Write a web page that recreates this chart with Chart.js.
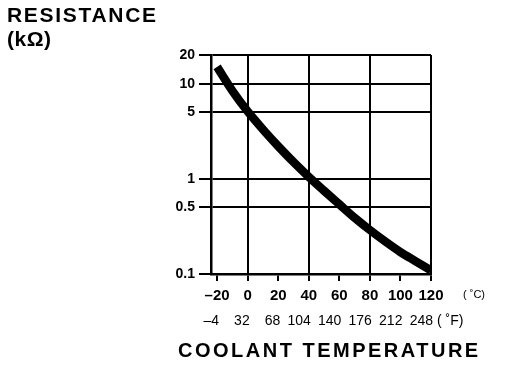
<!DOCTYPE html>
<html>
<head>
<meta charset="utf-8">
<script src="https://cdn.jsdelivr.net/npm/chart.js@4/dist/chart.umd.min.js"></script>
<style>
  html, body { margin: 0; padding: 0; background: #fff; }
  #c { display: block; }
</style>
</head>
<body>
<canvas id="c" width="526" height="380"></canvas>
<script>
// ---- data ----
const temperaturesC = [-20, -10, 0, 10, 20, 30, 40, 50, 60, 70, 80, 90, 100, 110, 120];
const resistanceKOhm = [15, 8.4, 5.1, 3.3, 2.2, 1.5, 1.05, 0.75, 0.54, 0.39, 0.29, 0.22, 0.17, 0.136, 0.109];
const xTicksC = [-20, 0, 20, 40, 60, 80, 100, 120];
const xTickLabelsC = ['–20', '0', '20', '40', '60', '80', '100', '120'];
const xTickLabelsF = ['–4', '32', '68', '104', '140', '176', '212', '248'];
const xGridC = [0, 40, 80, 120];
const yTicks = [0.1, 0.5, 1, 5, 10, 20];
const yTickLabels = ['0.1', '0.5', '1', '5', '10', '20'];
const yTitleLines = ['RESISTANCE', '(kΩ)'];
const xTitle = 'COOLANT TEMPERATURE';
const unitC = '( ˚C)';
const unitF = '( ˚F)';

const FONT = "'Liberation Sans', Arial, Helvetica, sans-serif";

const textPlugin = {
  id: 'texts',
  beforeDraw(chart) {
    const ctx = chart.ctx;
    ctx.save();
    ctx.fillStyle = '#fff';
    ctx.fillRect(0, 0, chart.width, chart.height);
    ctx.restore();
  },
  afterDraw(chart) {
    const ctx = chart.ctx;
    const xs = chart.scales.x;
    ctx.save();
    ctx.fillStyle = '#000';
    ctx.textBaseline = 'alphabetic';
    // y title
    ctx.font = 'bold 21px ' + FONT;
    ctx.textAlign = 'left';
    try { ctx.letterSpacing = '1.7px'; } catch (e) {}
    ctx.fillText(yTitleLines[0], 7, 22);
    try { ctx.letterSpacing = '0.5px'; } catch (e) {}
    ctx.font = 'bold 21px ' + FONT;
    ctx.fillText(yTitleLines[1], 7, 46);
    try { ctx.letterSpacing = '0px'; } catch (e) {}
    // Fahrenheit row, right-aligned at the Celsius ticks
    ctx.font = '14px ' + FONT;
    ctx.textAlign = 'right';
    xTicksC.forEach((c, i) => {
      ctx.fillText(xTickLabelsF[i], xs.getPixelForValue(c) + 2, 325);
    });
    ctx.textAlign = 'left';
    ctx.fillText(unitF, 437, 325);
    ctx.font = '11px ' + FONT;
    ctx.fillText(unitC, 463, 298);
    // x title
    ctx.font = 'bold 20px ' + FONT;
    try { ctx.letterSpacing = '2.5px'; } catch (e) {}
    ctx.fillText(xTitle, 178, 357);
    ctx.restore();
  }
};

new Chart(document.getElementById('c'), {
  type: 'scatter',
  data: {
    datasets: [{
      data: temperaturesC.map((t, i) => ({ x: t, y: resistanceKOhm[i] })),
      showLine: true,
      borderColor: '#000',
      backgroundColor: '#000',
      borderWidth: 8.5,
      pointRadius: 0,
      borderCapStyle: 'butt',
      cubicInterpolationMode: 'monotone'
    }]
  },
  options: {
    responsive: false,
    animation: false,
    layout: { padding: { left: 0, right: 95, top: 55, bottom: 0 } },
    plugins: { legend: { display: false }, tooltip: { enabled: false } },
    scales: {
      x: {
        type: 'linear',
        min: -24,
        max: 120,
        afterBuildTicks: s => { s.ticks = xTicksC.map(v => ({ value: v })); },
        afterFit: s => { s.height = 106; },
        ticks: {
          autoSkip: false,
          maxRotation: 0,
          color: '#000',
          padding: 6,
          font: { family: FONT, size: 15, weight: 'bold' },
          callback: (v) => xTickLabelsC[xTicksC.indexOf(v)]
        },
        grid: {
          color: c => (c.tick && xGridC.includes(c.tick.value)) ? '#000' : 'rgba(0,0,0,0)',
          tickColor: '#000',
          lineWidth: 2,
          tickLength: 7
        },
        border: { color: '#000', width: 2.5 }
      },
      y: {
        type: 'logarithmic',
        min: 0.1,
        max: 20,
        afterBuildTicks: s => { s.ticks = yTicks.map(v => ({ value: v })); },
        afterFit: s => { s.width = 211; },
        ticks: {
          autoSkip: false,
          color: '#000',
          padding: 4,
          font: { family: FONT, size: 14, weight: 'bold' },
          callback: (v) => yTickLabels[yTicks.indexOf(v)]
        },
        grid: { color: '#000', lineWidth: 2, tickLength: 12 },
        border: { color: '#000', width: 2.5 }
      }
    }
  },
  plugins: [textPlugin]
});
</script>
</body>
</html>
